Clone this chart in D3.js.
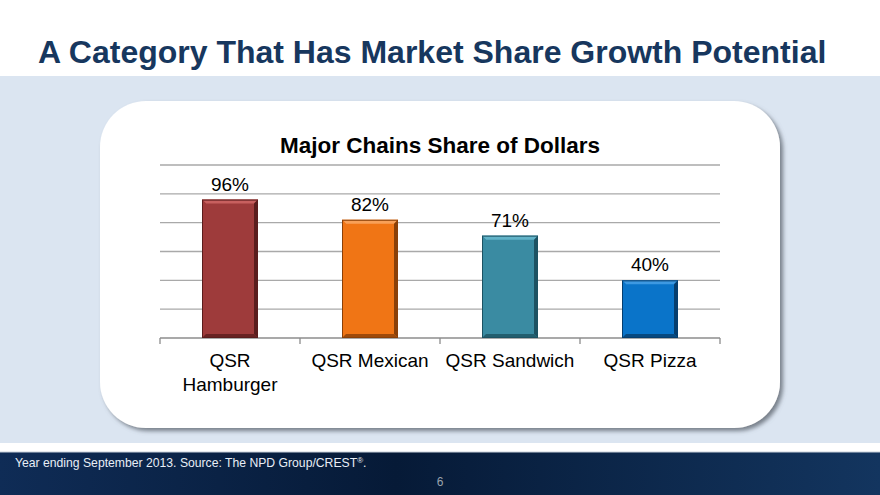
<!DOCTYPE html>
<html>
<head>
<meta charset="utf-8">
<script src="https://cdn.jsdelivr.net/npm/d3@7"></script>
<style>
html,body{margin:0;padding:0;background:#fff;}
svg{display:block;font-family:"Liberation Sans",Arial,Helvetica,sans-serif;}
</style>
</head>
<body>
<svg id="chart" width="880" height="495"></svg>
<script>
// ---- data ----
const slideTitle = "A Category That Has Market Share Growth Potential";
const chartTitle = "Major Chains Share of Dollars";
const categories = [["QSR", "Hamburger"], ["QSR Mexican"], ["QSR Sandwich"], ["QSR Pizza"]];
const values = [96, 82, 71, 40];
const valueLabels = ["96%", "82%", "71%", "40%"];
const yTicks = [0, 20, 40, 60, 80, 100, 120];
const barColors = ["#9e3b3b", "#f07515", "#3a8ba2", "#0a74c9"];
const barLight = ["#c8605f", "#f8a058", "#62b3c8", "#3d99e2"];
const barDark = ["#5a1d1d", "#8a4008", "#1d5262", "#063e6e"];
const footerText = "Year ending September 2013. Source: The NPD Group/CREST";
const pageNumber = "6";

const svg = d3.select("#chart");
const W = 880, H = 495;
const defs = svg.append("defs");

// backgrounds
svg.append("rect").attr("x",0).attr("y",0).attr("width",W).attr("height",H).attr("fill","#ffffff");
svg.append("rect").attr("x",0).attr("y",76).attr("width",W).attr("height",367).attr("fill","#dbe5f1");

const fg = defs.append("linearGradient").attr("id","foot").attr("x1","0").attr("x2","1").attr("y1","0").attr("y2","0");
fg.append("stop").attr("offset","0").attr("stop-color","#0f2c56");
fg.append("stop").attr("offset","0.45").attr("stop-color","#061a37");
fg.append("stop").attr("offset","1").attr("stop-color","#13355f");
svg.append("rect").attr("x",0).attr("y",452).attr("width",W).attr("height",43).attr("fill","url(#foot)");
svg.append("line").attr("x1",0).attr("x2",W).attr("y1",452).attr("y2",452).attr("stroke","#c8d0da").attr("stroke-width",1);

// slide title
svg.append("text").attr("x",38).attr("y",63)
  .attr("font-size",32).attr("font-weight","bold").attr("fill","#17375e")
  .text(slideTitle);

// card with shadow
const sh = defs.append("filter").attr("id","shadow").attr("x","-10%").attr("y","-10%").attr("width","120%").attr("height","120%");
sh.append("feDropShadow").attr("dx",3).attr("dy",3).attr("stdDeviation",2).attr("flood-color","#5f6670").attr("flood-opacity",0.8);
svg.append("rect").attr("x",100).attr("y",101).attr("width",680).attr("height",327)
  .attr("rx",46).attr("ry",46).attr("fill","#ffffff").attr("filter","url(#shadow)");

// chart
const plot = {left:160, right:720, top:165, bottom:338};
const x = d3.scaleBand().domain(d3.range(categories.length)).range([plot.left, plot.right]).paddingInner(0.6).paddingOuter(0.3);
const y = d3.scaleLinear().domain([0, 120]).range([plot.bottom, plot.top]);

svg.append("text").attr("x",(plot.left+plot.right)/2).attr("y",153)
  .attr("text-anchor","middle").attr("font-size",22.5).attr("font-weight","bold").attr("fill","#000")
  .text(chartTitle);

// gridlines
svg.append("g").selectAll("line").data(yTicks.filter(t=>t>0)).join("line")
  .attr("x1",plot.left).attr("x2",plot.right)
  .attr("y1",d=>y(d)).attr("y2",d=>y(d))
  .attr("stroke","#a9a9a9").attr("stroke-width",1.3);

// x axis
const xEdge = d3.scaleLinear().domain([0, categories.length]).range([plot.left, plot.right]);
const ax = svg.append("g");
ax.append("line").attr("x1",plot.left).attr("x2",plot.right).attr("y1",y(0)).attr("y2",y(0))
  .attr("stroke","#8c8c8c").attr("stroke-width",1.3);
ax.selectAll("line.tick").data(d3.range(categories.length+1)).join("line").attr("class","tick")
  .attr("x1",d=>xEdge(d)).attr("x2",d=>xEdge(d)).attr("y1",y(0)).attr("y2",y(0)+6)
  .attr("stroke","#8c8c8c").attr("stroke-width",1.3);

// bars with bevel
const bw = x.bandwidth();
const b = 4; // bevel
const bars = svg.append("g").selectAll("g").data(values).join("g");
bars.append("rect")
  .attr("x",(d,i)=>x(i)).attr("y",d=>y(d))
  .attr("width",bw).attr("height",d=>y(0)-y(d))
  .attr("fill",(d,i)=>barColors[i]);
// top bevel
bars.append("path").attr("d",(d,i)=>{
  const x0=x(i), x1=x(i)+bw, t=y(d);
  return `M${x0},${t}L${x1},${t}L${x1-b},${t+b}L${x0+b},${t+b}Z`;
}).attr("fill",(d,i)=>barLight[i]);
// left bevel
bars.append("path").attr("d",(d,i)=>{
  const x0=x(i), t=y(d), bt=y(0);
  return `M${x0},${t}L${x0+b},${t+b}L${x0+b},${bt-b}L${x0},${bt}Z`;
}).attr("fill",(d,i)=>barColors[i]).attr("opacity",0.85);
// right bevel
bars.append("path").attr("d",(d,i)=>{
  const x1=x(i)+bw, t=y(d), bt=y(0);
  return `M${x1},${t}L${x1},${bt}L${x1-b},${bt-b}L${x1-b},${t+b}Z`;
}).attr("fill",(d,i)=>barDark[i]);
// bottom bevel
bars.append("path").attr("d",(d,i)=>{
  const x0=x(i), x1=x(i)+bw, bt=y(0);
  return `M${x0},${bt}L${x1},${bt}L${x1-b},${bt-b}L${x0+b},${bt-b}Z`;
}).attr("fill",(d,i)=>barDark[i]).attr("opacity",0.8);
bars.append("rect")
  .attr("x",(d,i)=>x(i)+0.5).attr("y",d=>y(d)+0.5)
  .attr("width",bw-1).attr("height",d=>y(0)-y(d)-1)
  .attr("fill","none").attr("stroke",(d,i)=>barDark[i]).attr("stroke-width",1);

// value labels
svg.append("g").selectAll("text").data(values).join("text")
  .attr("x",(d,i)=>x(i)+bw/2).attr("y",d=>y(d)-9)
  .attr("text-anchor","middle").attr("font-size",19).attr("fill","#000")
  .text((d,i)=>valueLabels[i]);

// category labels
const cl = svg.append("g").selectAll("text").data(categories).join("text")
  .attr("x",(d,i)=>x(i)+bw/2).attr("y",367)
  .attr("text-anchor","middle").attr("font-size",19).attr("fill","#000");
cl.selectAll("tspan").data(d=>d).join("tspan")
  .attr("x",function(){return d3.select(this.parentNode).attr("x");})
  .attr("dy",(d,j)=>j===0?0:23.5)
  .text(d=>d);

// footer
const ft = svg.append("text").attr("x",15).attr("y",467).attr("font-size",12.2).attr("fill","#e8eef6").text(footerText);
ft.append("tspan").attr("font-size",8).attr("dy",-4).text("®");
ft.append("tspan").attr("dy",4).text(".");
svg.append("text").attr("x",440).attr("y",486).attr("text-anchor","middle").attr("font-size",12).attr("fill","#9aa3ad").text(pageNumber);
</script>
</body>
</html>
